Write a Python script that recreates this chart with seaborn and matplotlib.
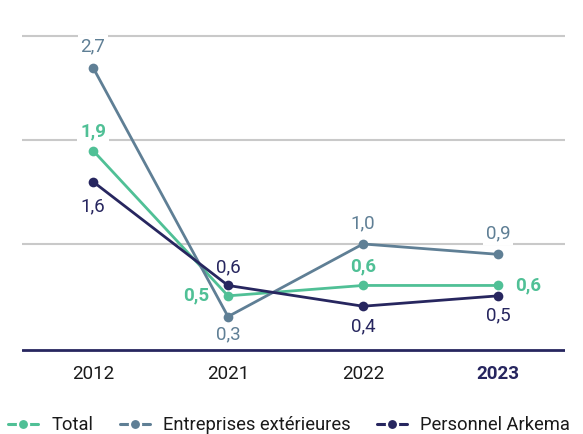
import matplotlib
matplotlib.use("Agg")
import matplotlib.pyplot as plt
from matplotlib.lines import Line2D
import seaborn as sns
import pandas as pd

years = ["2012", "2021", "2022", "2023"]
series = ["Total", "Entreprises extérieures", "Personnel Arkema"]
total = [1.9, 0.5, 0.6, 0.6]
entreprises = [2.7, 0.3, 1.0, 0.9]
personnel = [1.6, 0.6, 0.4, 0.5]

colors = {
    "Total": "#50c096",
    "Entreprises extérieures": "#5f7f95",
    "Personnel Arkema": "#27265f",
}

# label placement per series and year: (dx, dy) in pixels
label_offsets = {
    "Total": [(0, 19), (-32, 0), (0, 19), (30, 0)],
    "Entreprises extérieures": [(0, 21), (0, -18), (0, 21), (0, 21)],
    "Personnel Arkema": [(0, -25), (0, 18), (0, -20), (0, -20)],
}

sns.set_theme(style="white")
plt.rcParams["font.family"] = ["Roboto", "DejaVu Sans"]

df = pd.DataFrame({
    "pos": list(range(len(years))) * 3,
    "value": total + entreprises + personnel,
    "serie": [s for s in series for _ in years],
})

fig = plt.figure(figsize=(5.83, 4.34), dpi=100)
ax = fig.add_axes([22 / 583, 79 / 434, 543 / 583, 329 / 434])

sns.lineplot(
    data=df, x="pos", y="value", hue="serie", hue_order=series,
    palette=colors, marker="o", markersize=7, markeredgewidth=0,
    linewidth=2, legend=False, ax=ax, zorder=4,
)

ax.set_xlim(-0.526, 3.496)
ax.set_ylim(-0.07, 3.1)

for g in [1, 2, 3]:
    ax.axhline(g, color="#c9c9c9", linewidth=1.5, zorder=1)
ax.axhline(-0.025, color="#27265f", linewidth=2, zorder=2)

for name, vals in zip(series, [total, entreprises, personnel]):
    for i, v in enumerate(vals):
        dx, dy = label_offsets[name][i]
        ax.annotate(
            f"{v:.1f}".replace(".", ","), (i, v),
            xytext=(dx, dy), textcoords="offset pixels",
            ha="center", va="center", fontsize=13.5,
            fontweight="bold" if name == "Total" else "normal",
            color=colors[name], zorder=3,
            bbox=dict(boxstyle="square,pad=0.15", fc="white", ec="none"),
        )

ax.set_xticks(range(len(years)))
ax.set_xticklabels(years, fontsize=13.5, color="#1a1a1a")
ax.get_xticklabels()[-1].set_fontweight("bold")
ax.get_xticklabels()[-1].set_color("#27265f")
ax.tick_params(axis="x", length=0, pad=7)
ax.set_yticks([])
ax.set_xlabel("")
ax.set_ylabel("")
for sp in ax.spines.values():
    sp.set_visible(False)

handles = [
    Line2D([0], [0], color=colors[s], linewidth=2.2, marker="o", markersize=8,
           markeredgecolor="white", markeredgewidth=1.6)
    for s in series
]
fig.legend(handles, series, loc="center left", bbox_to_anchor=(8 / 583, 9 / 434),
           ncol=3, frameon=False, fontsize=13.2, handlelength=1.65,
           handletextpad=0.7, columnspacing=1.45, borderpad=0,
           borderaxespad=0, labelcolor="#1a1a1a")

fig.savefig("out.png", dpi=100)
